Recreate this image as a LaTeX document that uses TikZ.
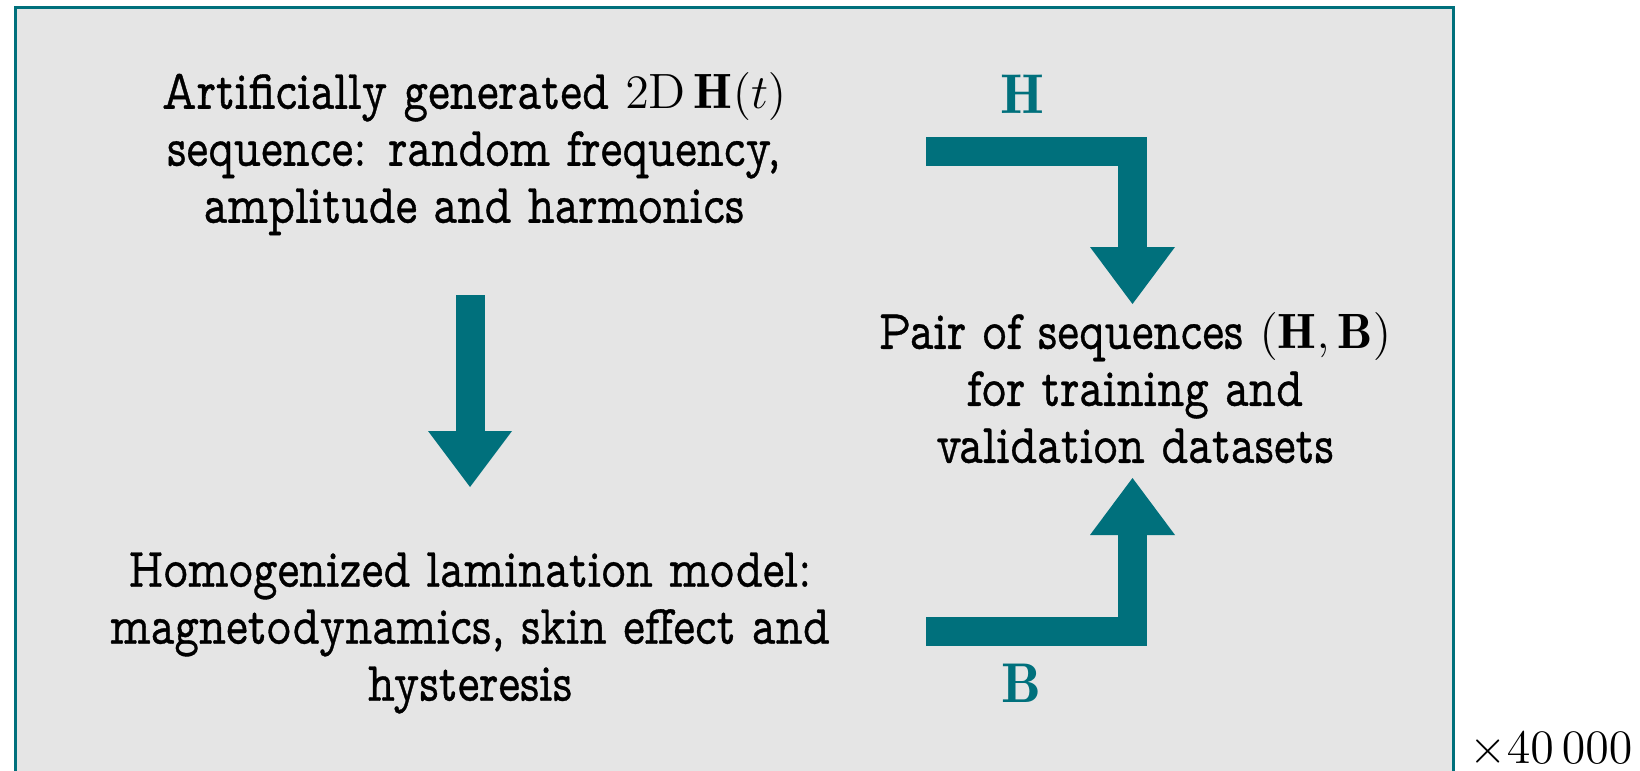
\documentclass[tikz,border=0pt]{standalone}
\usepackage{fontspec}
\newfontfamily\slabface[FakeStretch=0.83, FakeBold=0.6]{lmmonoprop10-regular.otf}
\usetikzlibrary{calc}
\definecolor{teal}{RGB}{0,112,124}
\definecolor{panel}{RGB}{229,229,229}
\newcommand\slabtext{\slabface\fontsize{14}{14.25}\selectfont}
\newcommand\mth[1]{{\fontsize{12.4}{14}\selectfont$#1$}}
\tikzset{
  txt/.style={font=\slabtext, align=center, inner sep=0pt},
  flowlabel/.style={text=teal, font=\fontsize{14}{16}\selectfont, inner sep=0pt},
  shaft/.style={draw=teal, line width=7.25pt, line join=miter, line cap=butt},
}
\begin{document}
\begin{tikzpicture}[x=0.25pt, y=-0.25pt]
  \useasboundingbox (0,0) rectangle (1640,771);
  % framed panel (its lower edge runs past the page)
  \draw[draw=teal, line width=0.75pt, fill=panel] (15.5,7.5) rectangle (1453.5,800);

  % text blocks
  \node[txt] (gen) at (474,154)
    {Artificially generated \mth{2\mathrm{D}\,\mathbf{H}(t)}\\sequence: random frequency,\\amplitude and harmonics};
  \node[txt] (model) at (470,633)
    {Homogenized lamination model:\\magnetodynamics, skin effect and\\hysteresis};
  \node[txt] (pair) at (1135,388)
    {Pair of sequences \mth{(\mathbf{H},\mathbf{B})}\\for training and\\validation datasets};

  % path coordinates of the block arrows
  \coordinate (dtop) at (470,295);
  \coordinate (dbase) at (470,431);
  \coordinate (dtip) at (470,487);

  \coordinate (hstart) at (926,151.5);
  \coordinate (hcorner) at (1132.5,151.5);
  \coordinate (hbase) at (1132.5,247);
  \coordinate (htip) at (1132.5,304);

  \coordinate (bstart) at (926,631);
  \coordinate (bcorner) at (1132.5,631);
  \coordinate (bbase) at (1132.5,535);
  \coordinate (btip) at (1132.5,478);

  % generator -> model
  \draw[shaft] (dtop) -- (dbase);
  \fill[teal] ($(dbase)+(-42,0)$) -- ($(dbase)+(42,0)$) -- (dtip) -- cycle;

  % H sequence -> pair
  \draw[shaft] (hstart) -- (hcorner) -- (hbase);
  \fill[teal] ($(hbase)+(-42.5,0)$) -- ($(hbase)+(42.5,0)$) -- (htip) -- cycle;

  % B sequence -> pair
  \draw[shaft] (bstart) -- (bcorner) -- (bbase);
  \fill[teal] ($(bbase)+(-42.5,0)$) -- ($(bbase)+(42.5,0)$) -- (btip) -- cycle;

  \node[flowlabel] (hlab) at (1022,94) {$\mathbf{H}$};
  \node[flowlabel] (blab) at (1021,683) {$\mathbf{B}$};

  \node[inner sep=0pt, font=\fontsize{12}{14}\selectfont] (count) at (1551,750) {$\times 40\,000$};
\end{tikzpicture}
\end{document}
